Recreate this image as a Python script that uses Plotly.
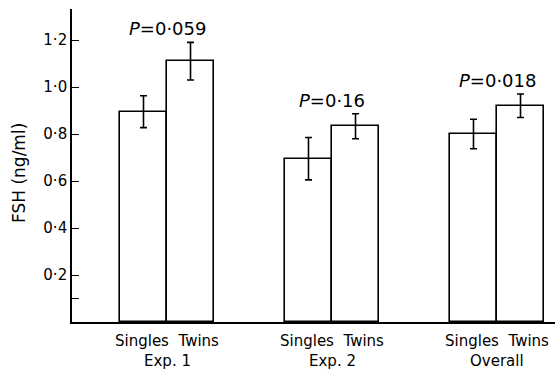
import plotly.graph_objects as go

groups = ["Exp. 1", "Exp. 2", "Overall"]
pair_label = "Singles  Twins"
singles_mean = [0.895, 0.695, 0.80]
singles_err = [0.068, 0.09, 0.063]
twins_mean = [1.11, 0.833, 0.92]
twins_err = [0.08, 0.053, 0.05]
p_labels = ["0·059", "0·16", "0·018"]
y_tickvals = [0.1, 0.2, 0.4, 0.6, 0.8, 1.0, 1.2]
y_ticktext = ["", "0·2", "0·4", "0·6", "0·8", "1·0", "1·2"]

FONT = "DejaVu Sans, Arial, sans-serif"
centers = [1, 2, 3]
bw = 0.285
off = bw / 2

fig = go.Figure()
errstyle = dict(type="data", visible=True, color="black", thickness=1.6, width=3.5)
fig.add_trace(go.Bar(
    x=[c - off for c in centers], y=singles_mean, width=bw,
    error_y=dict(array=singles_err, **errstyle),
    marker=dict(color="white", line=dict(color="black", width=1.6)),
    name="Singles", showlegend=False))
fig.add_trace(go.Bar(
    x=[c + off for c in centers], y=twins_mean, width=bw,
    error_y=dict(array=twins_err, **errstyle),
    marker=dict(color="white", line=dict(color="black", width=1.6)),
    name="Twins", showlegend=False))

for c, tm, te, p in zip(centers, twins_mean, twins_err, p_labels):
    fig.add_annotation(x=c, y=tm + te + 0.058, text="<i>P</i>=" + p,
                       showarrow=False, xanchor="center", yanchor="middle",
                       font=dict(family=FONT, size=18, color="black"))

for c, g in zip(centers, groups):
    fig.add_annotation(x=c, xref="x", y=-0.062, yref="paper", text=pair_label,
                       showarrow=False, xanchor="center", yanchor="middle",
                       borderpad=0,
                       font=dict(family=FONT, size=15, color="black"))
    fig.add_annotation(x=c, xref="x", y=-0.124, yref="paper", text=g,
                       showarrow=False, xanchor="center", yanchor="middle",
                       borderpad=0,
                       font=dict(family=FONT, size=15, color="black"))

fig.add_annotation(x=-53 / 483, xref="paper", y=0.476, yref="paper",
                   text="FSH (ng/ml)", textangle=-90, showarrow=False,
                   xanchor="center", yanchor="middle",
                   font=dict(family=FONT, size=17, color="black"))

fig.update_layout(
    width=555, height=371,
    margin=dict(l=72, r=0, t=9, b=49),
    paper_bgcolor="white", plot_bgcolor="white",
    font=dict(family=FONT, color="black"),
    bargap=0, barmode="overlay",
)
fig.update_xaxes(
    range=[1 - 95 / 165, 3 + 58 / 165],
    showticklabels=False,
    showline=True, linecolor="black", linewidth=2,
    showgrid=False, zeroline=False, ticks="",
)
fig.update_yaxes(
    range=[0, 1.332],
    tickvals=y_tickvals, ticktext=y_ticktext,
    tickfont=dict(family=FONT, size=15, color="black"),
    ticks="inside", ticklen=7, tickwidth=1.3, tickcolor="black",
    showline=True, linecolor="black", linewidth=1.6,
    showgrid=False, zeroline=False,
)

fig.write_html("out.html")
